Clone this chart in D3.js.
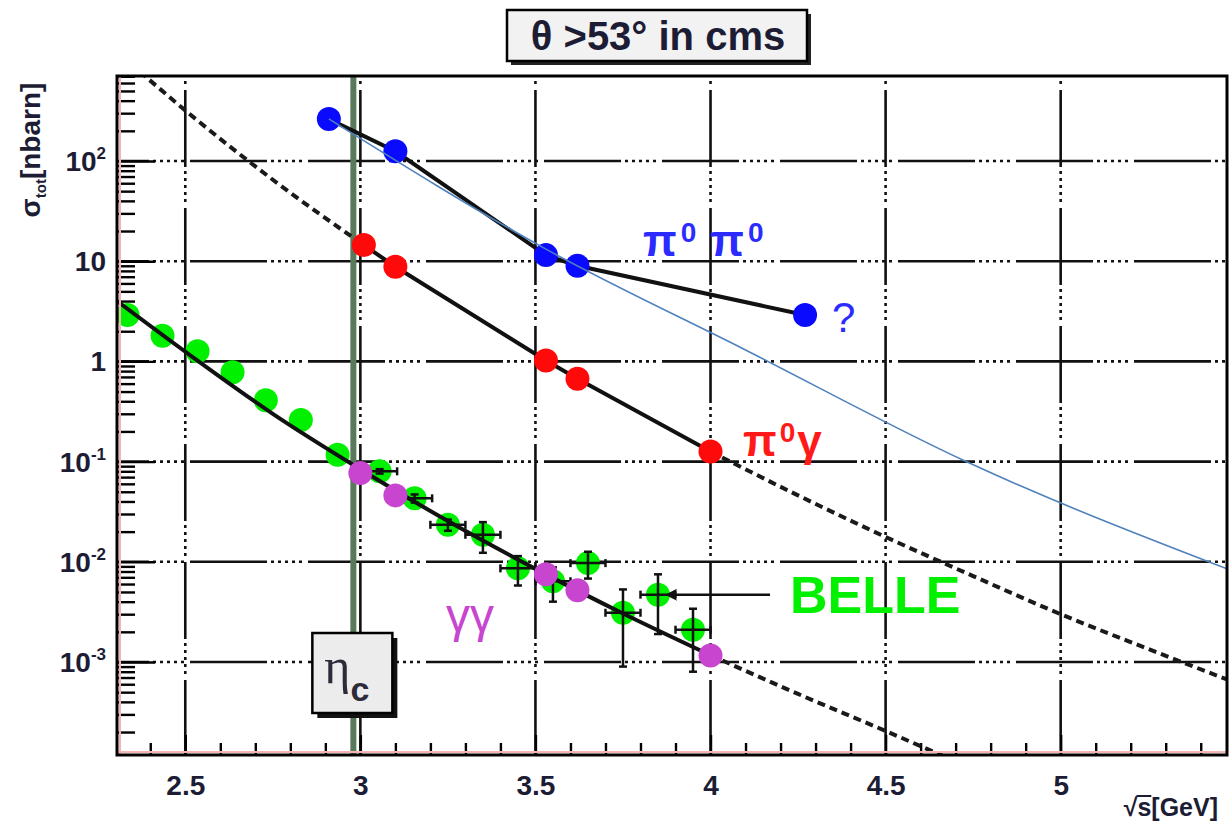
<!DOCTYPE html>
<html><head><meta charset="utf-8">
<script src="https://cdn.jsdelivr.net/npm/d3@7"></script>
<style>
html,body{margin:0;padding:0;background:#fff;}
svg{display:block;}
text{font-family:"Liberation Sans", Arial, sans-serif;}
</style></head><body>
<svg id="chart" width="1229" height="824"></svg>
<script>
// ---- measured cross sections, sigma in nbarn vs sqrt(s) in GeV ----
const pipiX = [2.91, 3.10, 3.53, 3.62, 4.27];
const pipiY = [262, 125, 11.5, 9.0, 2.9];

const pigX = [3.01, 3.10, 3.53, 3.62, 4.00];
const pigY = [14.5, 8.8, 1.02, 0.67, 0.126];

const ggX = [3.00, 3.10, 3.53, 3.62, 4.00];
const ggY = [0.077, 0.046, 0.0075, 0.0052, 0.00116];

// BELLE gamma-gamma data with uncertainties
const belleX = [2.335, 2.435, 2.535, 2.635, 2.73, 2.83, 2.935, 3.055, 3.155, 3.25, 3.35, 3.45, 3.55, 3.65, 3.75, 3.85, 3.95];
const belleY = [2.9, 1.8, 1.26, 0.78, 0.41, 0.26, 0.117, 0.080, 0.043, 0.0234, 0.0186, 0.0086, 0.0064, 0.0097, 0.0031, 0.0047, 0.0021];
const belleErr = [0, 0, 0, 0, 0, 0, 0, 0.004, 0.004, 0.003, 0.0063, 0.0028, 0.0024, 0.0029, 0.0022, 0.0028, 0.0013];
const belleXErr = [0, 0, 0, 0, 0, 0, 0, 0.05, 0.05, 0.05, 0.05, 0.05, 0.05, 0.05, 0.05, 0.05, 0.05];

// model curves
const thUpX = [2.37, 2.5, 2.75, 3.0, 3.25, 3.5, 3.75, 4.0, 4.25, 4.5, 4.75, 5.0, 5.25, 5.475];
const thUpY = [780, 320, 65, 15.3, 4.0, 1.17, 0.37, 0.126, 0.046, 0.0177, 0.0072, 0.0030, 0.00135, 0.00067];
const ggFitX = [2.305, 2.5, 2.75, 3.0, 3.25, 3.5, 3.75, 4.0];
const ggFitY = [4.0, 1.25, 0.30, 0.084, 0.0255, 0.0085, 0.00305, 0.00117];
const ggExtX = [4.0, 4.25, 4.5, 4.75];
const ggExtY = [0.00117, 0.00048, 0.000205, 0.000085];
const trendX = [2.91, 3.53, 4.10, 4.73, 5.475];
const trendY = [263, 13.2, 1.3, 0.1, 0.0085];

const etaC = 2.98;

// axis ticks
const xMajor = [2.5, 3, 3.5, 4, 4.5, 5];
const xMajorLabels = ["2.5", "3", "3.5", "4", "4.5", "5"];
const yDecades = [1e-3, 1e-2, 1e-1, 1, 10, 100];
const yBase = ["10", "10", "10", "1", "10", "10"];
const yExp = ["-3", "-2", "-1", "", "", "2"];

// ---- layout ----
const svg = d3.select("#chart");
const X0 = 117, X1 = 1227, Y0 = 76, Y1 = 755;
const x = d3.scaleLinear().domain([2.305, 5.475]).range([X0, X1]);
const y = d3.scaleLog().domain([1.18e-4, 705]).range([Y1, Y0]);

svg.append("defs").append("clipPath").attr("id", "plotclip")
  .append("rect").attr("x", X0).attr("y", Y0).attr("width", X1 - X0).attr("height", Y1 - Y0);

const zip = (xs, ys) => xs.map((v, i) => [v, ys[i]]);

// ---- grid ----
const gridDash = "77 4 3 4 3 4 3 4 3 4 3 6";
const grid = svg.append("g").attr("stroke", "#111").attr("stroke-width", 2.6).attr("fill", "none");
grid.selectAll("line.h").data(yDecades).join("line")
  .attr("x1", X0).attr("x2", X1).attr("y1", d => y(d)).attr("y2", d => y(d))
  .attr("stroke-dasharray", gridDash).attr("stroke-dashoffset", 45);
grid.selectAll("line.v").data(xMajor).join("line")
  .attr("y1", Y0).attr("y2", Y1).attr("x1", d => x(d)).attr("x2", d => x(d))
  .attr("stroke-dasharray", gridDash).attr("stroke-dashoffset", 104);

// ---- axes (inward ticks) ----
const yMinor = [];
for (let e = -4; e <= 2; e++) for (let k = 2; k <= 9; k++) {
  const v = k * Math.pow(10, e);
  if (v >= 1.18e-4 && v <= 705) yMinor.push(v);
}
const axisStyle = g => { g.select(".domain").remove(); g.selectAll("line").attr("stroke", "#000").attr("stroke-width", 2.4); };
svg.append("g").attr("transform", `translate(${X0},0)`)
  .call(d3.axisLeft(y).tickValues(yMinor).tickSize(-18).tickFormat(""))
  .call(axisStyle);
svg.append("g").attr("transform", `translate(${X0},0)`)
  .call(d3.axisLeft(y).tickValues(yDecades).tickSize(-38).tickFormat(""))
  .call(axisStyle);

const xMinor = d3.range(24, 55).map(i => i / 10).filter(v => xMajor.indexOf(v) < 0);
svg.append("g").attr("transform", `translate(0,${Y1})`)
  .call(d3.axisBottom(x).tickValues(xMinor).tickSize(-12).tickFormat(""))
  .call(axisStyle);
svg.append("g").attr("transform", `translate(0,${Y1})`)
  .call(d3.axisBottom(x).tickValues(xMajor).tickSize(-20).tickPadding(20)
    .tickFormat((d, i) => xMajorLabels[i]))
  .call(axisStyle)
  .call(g => g.selectAll("text").attr("font-size", 28).attr("font-weight", "bold")
    .attr("fill", "#1c1c34").attr("font-family", "Liberation Sans, Arial, sans-serif"));

// y labels with exponents
const yl = svg.append("g").attr("font-weight", "bold").attr("fill", "#1c1c34");
yDecades.forEach((d, i) => {
  const t = yl.append("text").attr("text-anchor", "end").attr("x", 106)
    .attr("y", y(d) + 10).attr("font-size", 28);
  t.append("tspan").text(yBase[i]);
  if (yExp[i]) t.append("tspan").attr("font-size", 17).attr("dy", -12).text(yExp[i]);
});

// ---- eta_c band ----
svg.append("line").attr("x1", x(etaC)).attr("x2", x(etaC)).attr("y1", Y0).attr("y2", Y1)
  .attr("stroke", "#58795a").attr("stroke-width", 6);

const plot = svg.append("g").attr("clip-path", "url(#plotclip)");

// ---- dotted model curves ----
const lineSmooth = d3.line().x(d => x(d[0])).y(d => y(d[1])).curve(d3.curveMonotoneX);
const lineStraight = d3.line().x(d => x(d[0])).y(d => y(d[1]));
const upPts = zip(thUpX, thUpY);
const dotted = p => p.attr("d", lineSmooth).attr("fill", "none").attr("stroke", "#1a1a1a")
  .attr("stroke-width", 4).attr("stroke-dasharray", "8 5");
plot.append("path").datum(upPts.filter(d => d[0] <= 3.0)).call(dotted);
plot.append("path").datum(upPts.filter(d => d[0] >= 4.0)).call(dotted);
plot.append("path").datum(zip(ggExtX, ggExtY)).call(dotted);

// ---- BELLE points with error bars ----
const belle = belleX.map((v, i) => ({ x: v, y: belleY[i], e: belleErr[i], xe: belleXErr[i] }));
plot.selectAll("circle.belle").data(belle).join("circle")
  .attr("cx", d => x(d.x)).attr("cy", d => y(d.y)).attr("r", 12).attr("fill", "#00f000");
const eb = plot.append("g").attr("stroke", "#111").attr("stroke-width", 2.5);
belle.filter(d => d.e > 0).forEach(d => {
  const cx = x(d.x), cy = y(d.y);
  const yt = y(d.y + d.e), yb = y(d.y - d.e);
  const xl = x(d.x - d.xe), xr = x(d.x + d.xe);
  eb.append("line").attr("x1", cx).attr("x2", cx).attr("y1", yt).attr("y2", yb);
  eb.append("line").attr("x1", cx - 4).attr("x2", cx + 4).attr("y1", yt).attr("y2", yt);
  eb.append("line").attr("x1", cx - 4).attr("x2", cx + 4).attr("y1", yb).attr("y2", yb);
  eb.append("line").attr("x1", xl).attr("x2", xr).attr("y1", cy).attr("y2", cy);
  eb.append("line").attr("x1", xl).attr("x2", xl).attr("y1", cy - 4).attr("y2", cy + 4);
  eb.append("line").attr("x1", xr).attr("x2", xr).attr("y1", cy - 4).attr("y2", cy + 4);
});

// gamma-gamma fit line
plot.append("path").datum(zip(ggFitX, ggFitY))
  .attr("d", lineSmooth).attr("fill", "none").attr("stroke", "#111").attr("stroke-width", 4);
plot.selectAll("circle.gg").data(zip(ggX, ggY)).join("circle")
  .attr("cx", d => x(d[0])).attr("cy", d => y(d[1])).attr("r", 12).attr("fill", "#c845cf");

// pi0 gamma
plot.append("path").datum(zip(pigX, pigY))
  .attr("d", lineStraight).attr("fill", "none").attr("stroke", "#111").attr("stroke-width", 4);
plot.selectAll("circle.pig").data(zip(pigX, pigY)).join("circle")
  .attr("cx", d => x(d[0])).attr("cy", d => y(d[1])).attr("r", 12).attr("fill", "#ff0a0a");

// pi0 pi0
plot.append("path").datum(zip(pipiX, pipiY))
  .attr("d", lineStraight).attr("fill", "none").attr("stroke", "#111").attr("stroke-width", 4);
plot.selectAll("circle.pipi").data(zip(pipiX, pipiY)).join("circle")
  .attr("cx", d => x(d[0])).attr("cy", d => y(d[1])).attr("r", 12).attr("fill", "#0a0aff");

// thin trend line
plot.append("path").datum(zip(trendX, trendY))
  .attr("d", lineSmooth).attr("fill", "none").attr("stroke", "#4f81bd").attr("stroke-width", 1.6);

// ---- frame ----
svg.append("line").attr("x1", X0 + 3).attr("x2", X0 + 3).attr("y1", Y0).attr("y2", Y1)
  .attr("stroke", "#f2b4b4").attr("stroke-width", 2);
svg.append("line").attr("x1", X0).attr("x2", X1).attr("y1", Y1 - 3).attr("y2", Y1 - 3)
  .attr("stroke", "#f2b4b4").attr("stroke-width", 2);
svg.append("rect").attr("x", X0).attr("y", Y0).attr("width", X1 - X0).attr("height", Y1 - Y0)
  .attr("fill", "none").attr("stroke", "#000").attr("stroke-width", 3);

// ---- eta_c box ----
const ex = x(etaC) - 41, ey = 633;
svg.append("rect").attr("x", ex + 5).attr("y", ey + 5).attr("width", 80).attr("height", 80).attr("fill", "#111");
svg.append("rect").attr("x", ex).attr("y", ey).attr("width", 80).attr("height", 80)
  .attr("fill", "#ececec").attr("stroke", "#000").attr("stroke-width", 2.5);
const et = svg.append("text").attr("x", ex + 12).attr("y", ey + 50).attr("fill", "#2b2b3a");
et.append("tspan").attr("font-family", "Liberation Serif, serif").attr("font-size", 50).text("η");
et.append("tspan").attr("font-size", 34).attr("font-weight", "bold").attr("dy", 18).attr("dx", 0).text("c");

// ---- title box ----
svg.append("rect").attr("x", 511).attr("y", 14).attr("width", 300).attr("height", 51).attr("fill", "#222");
svg.append("rect").attr("x", 507).attr("y", 10).attr("width", 300).attr("height", 51)
  .attr("fill", "#f2f2f2").attr("stroke", "#000").attr("stroke-width", 2.5);
svg.append("text").attr("x", 658).attr("y", 50).attr("text-anchor", "middle")
  .attr("font-size", 40).attr("font-weight", "bold").attr("fill", "#1c1c34")
  .text("θ >53° in cms");

// ---- series labels ----
const lp = svg.append("text").attr("x", 643).attr("y", 256).attr("fill", "#2b2bff")
  .attr("font-size", 44).attr("font-weight", "bold");
lp.append("tspan").text("π");
lp.append("tspan").attr("font-size", 28).attr("dy", -14).attr("dx", 4).text("0");
lp.append("tspan").attr("dy", 14).attr("dx", 14).text("π");
lp.append("tspan").attr("font-size", 28).attr("dy", -14).attr("dx", 4).text("0");

svg.append("text").attr("x", 832).attr("y", 332).attr("fill", "#2b2bff")
  .attr("font-size", 42).text("?");

const lg = svg.append("text").attr("x", 743).attr("y", 456).attr("fill", "#ff1a1a")
  .attr("font-size", 44).attr("font-weight", "bold");
lg.append("tspan").text("π");
lg.append("tspan").attr("font-size", 28).attr("dy", -14).attr("dx", 3).text("0");
lg.append("tspan").attr("dy", 14).attr("dx", 2).text("γ");

svg.append("text").attr("x", 446).attr("y", 632).attr("fill", "#c845cf")
  .attr("font-family", "Liberation Serif, serif").attr("font-size", 48).text("γγ");

// BELLE label and arrow
const arrowY = y(belleY[15]);
svg.append("line").attr("x1", x(4.17)).attr("x2", x(3.885)).attr("y1", arrowY).attr("y2", arrowY)
  .attr("stroke", "#111").attr("stroke-width", 2.5);
svg.append("path")
  .attr("d", `M${x(3.87)},${arrowY} l12,-6 l-3,6 l3,6 z`).attr("fill", "#111");
svg.append("text").attr("x", 790).attr("y", 613).attr("fill", "#00f000")
  .attr("font-size", 52).attr("font-weight", "bold").text("BELLE");

// ---- axis titles ----
const xt = svg.append("text").attr("x", 1218).attr("y", 816).attr("text-anchor", "end")
  .attr("font-size", 25).attr("font-weight", "bold").attr("fill", "#1c1c34")
  .text("√s[GeV]");
// overline of the square root over "s"
const xtBox = xt.node().getBBox();
const rootW = xt.node().getSubStringLength(0, 1);
const sW = xt.node().getSubStringLength(1, 1);
svg.append("line")
  .attr("x1", xtBox.x + rootW - 1).attr("x2", xtBox.x + rootW + sW)
  .attr("y1", xtBox.y + 3).attr("y2", xtBox.y + 3)
  .attr("stroke", "#1c1c34").attr("stroke-width", 2);

const yt = svg.append("text").attr("transform", "translate(40,150) rotate(-90)")
  .attr("text-anchor", "middle").attr("font-size", 28).attr("font-weight", "bold").attr("fill", "#1c1c34");
yt.append("tspan").text("σ");
yt.append("tspan").attr("font-size", 15).attr("dy", 6).text("tot");
yt.append("tspan").attr("dy", -6).text("[nbarn]");
</script>
</body></html>
